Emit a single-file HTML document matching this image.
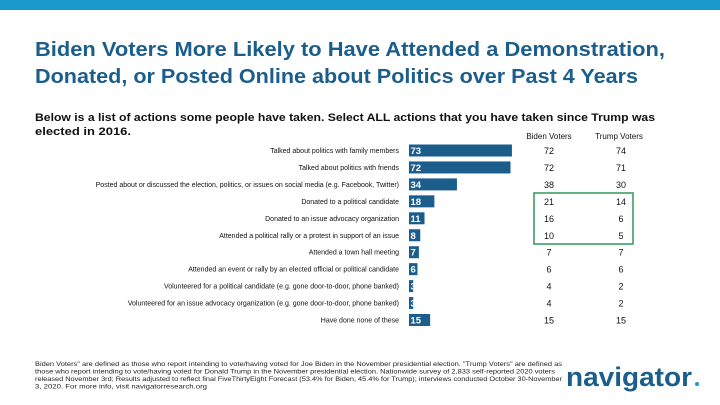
<!DOCTYPE html>
<html><head><meta charset="utf-8"><style>
html,body{margin:0;padding:0;background:#fff;}
svg{display:block;font-family:"Liberation Sans",sans-serif;}
</style></head><body>
<svg width="720" height="405" viewBox="0 0 720 405">
<rect x="0" y="0" width="720" height="10" fill="#1a9acb"/>
<text x="35" y="56" font-size="20" font-weight="bold" fill="#1b5e8c" textLength="630" lengthAdjust="spacingAndGlyphs">Biden Voters More Likely to Have Attended a Demonstration,</text>
<text x="35" y="83" font-size="20" font-weight="bold" fill="#1b5e8c" textLength="603" lengthAdjust="spacingAndGlyphs">Donated, or Posted Online about Politics over Past 4 Years</text>
<text x="35" y="121" font-size="11" font-weight="bold" fill="#111" textLength="620" lengthAdjust="spacingAndGlyphs">Below is a list of actions some people have taken. Select ALL actions that you have taken since Trump was</text>
<text x="35" y="135" font-size="11" font-weight="bold" fill="#111" textLength="96" lengthAdjust="spacingAndGlyphs">elected in 2016.</text>
<text x="549" y="139" font-size="8" text-anchor="middle" fill="#111">Biden Voters</text>
<text x="619" y="139" font-size="8" text-anchor="middle" fill="#111">Trump Voters</text>
<rect x="534" y="193" width="99" height="51" fill="none" stroke="#2e9a5a" stroke-width="1.5"/>
<g id="chart"></g>
<text x="35" y="366" font-size="6" fill="#222">
<tspan x="35" textLength="527" lengthAdjust="spacingAndGlyphs">Biden Voters" are defined as those who report intending to vote/having voted for Joe Biden in the November presidential election. "Trump Voters" are defined as</tspan>
<tspan x="35" dy="7.5" textLength="520" lengthAdjust="spacingAndGlyphs">those who report intending to vote/having voted for Donald Trump in the November presidential election. Nationwide survey of 2,833 self-reported 2020 voters</tspan>
<tspan x="35" dy="7.5" textLength="527" lengthAdjust="spacingAndGlyphs">released November 3rd; Results adjusted to reflect final FiveThirtyEight Forecast (53.4% for Biden, 45.4% for Trump); interviews conducted October 30-November</tspan>
<tspan x="35" dy="7.5" textLength="172" lengthAdjust="spacingAndGlyphs">3, 2020. For more info, visit navigatorresearch.org</tspan>
</text>
<text x="566" y="386" font-size="27" font-weight="bold" fill="#1b5e8c" textLength="126" lengthAdjust="spacingAndGlyphs">navigator</text>
<circle cx="697" cy="384" r="2" fill="#1a9acb"/>
</svg>
<script>
const categories=["Talked about politics with family members","Talked about politics with friends","Posted about or discussed the election, politics, or issues on social media (e.g. Facebook, Twitter)","Donated to a political candidate","Donated to an issue advocacy organization","Attended a political rally or a protest in support of an issue","Attended a town hall meeting","Attended an event or rally by an elected official or political candidate","Volunteered for a political candidate (e.g. gone door-to-door, phone banked)","Volunteered for an issue advocacy organization (e.g. gone door-to-door, phone banked)","Have done none of these"];
const totalValues=[73,72,34,18,11,8,7,6,3,3,15];
const bidenValues=[72,72,38,21,16,10,7,6,4,4,15];
const trumpValues=[74,71,30,14,6,5,7,6,2,2,15];
const NS="http://www.w3.org/2000/svg";
const g=document.getElementById("chart");
const x0=409, pxPer=1.41, y0=150.5, step=16.95, bh=12;
const xs=v=>v*pxPer, ys=i=>y0+i*step;
function mk(t,a){const e=document.createElementNS(NS,t);for(const k in a)e.setAttribute(k,a[k]);g.appendChild(e);return e;}
categories.forEach((c,i)=>{
  const y=ys(i);
  const lab=mk("text",{x:399,y:y+2.5,"font-size":"7","text-anchor":"end",fill:"#111"});
  lab.textContent=c;
  
  
  const b=mk("rect",{x:x0,y:y-bh/2,width:Math.max(xs(totalValues[i]),2),height:bh,fill:"#1b5e8c"});
  
  
  const v=mk("text",{x:x0+1.5,y:y+3.5,"font-size":"9.5","font-weight":"bold",fill:"#fff"});
  v.textContent=totalValues[i];
  
  
  const bv=mk("text",{x:549,y:y+3.5,"font-size":"9","text-anchor":"middle",fill:"#111"});
  bv.textContent=bidenValues[i];
  
  
  const tv=mk("text",{x:621,y:y+3.5,"font-size":"9","text-anchor":"middle",fill:"#111"});
  tv.textContent=trumpValues[i];
  
  
});
</script>
</body></html>
